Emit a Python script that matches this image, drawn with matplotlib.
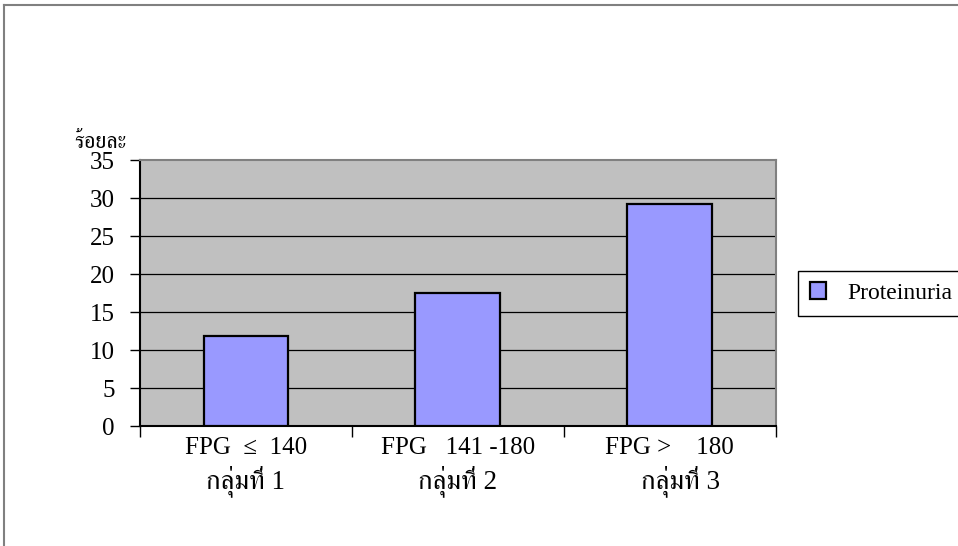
import matplotlib
matplotlib.use("Agg")
import matplotlib.pyplot as plt
from matplotlib import font_manager
from matplotlib.ft2font import FT2Font
from matplotlib.lines import Line2D
import numpy as np

# data
groups = ["FPG  \u2264  140", "FPG   141 -180", "FPG >    180"]
group_names = ["กลุ่มที่ 1", "กลุ่มที่ 2", "กลุ่มที่ 3"]
proteinuria = [11.9, 17.6, 29.2]
yticks = [0, 5, 10, 15, 20, 25, 30, 35]
series_name = "Proteinuria"
ylabel = "ร้อยละ"

# find a font with Thai glyphs
thai_fonts = []
for f in font_manager.fontManager.ttflist:
    try:
        if 0x0E01 in FT2Font(f.fname).get_charmap():
            thai_fonts.append(f.name)
    except Exception:
        pass
thai_fonts = sorted(set(thai_fonts), key=lambda n: ("Serif" not in n, n))
fams = ["Liberation Serif"] + thai_fonts[:1] + ["DejaVu Sans"]
plt.rcParams['font.family'] = fams
plt.rcParams['font.size'] = 18

fig = plt.figure(figsize=(9.58, 5.46), dpi=100)
ax = fig.add_axes([0.1461, 0.2189, 0.6636, 0.4875])
ax.set_facecolor("#C0C0C0")

x = np.arange(len(groups))
bars = ax.bar(x, proteinuria, width=0.4, color="#9999FF",
              edgecolor="black", linewidth=1.6, zorder=3, label=series_name)

ax.set_xlim(-0.5, len(groups) - 0.5)
ax.set_ylim(0, 35)
ax.set_yticks(yticks)
ax.set_yticklabels([str(v) for v in yticks])
for v in yticks[1:-1]:
    ax.axhline(v, color="black", linewidth=0.9, zorder=1)

ax.set_xticks(np.arange(-0.5, len(groups), 1.0))
ax.set_xticklabels([])
ax.tick_params(axis="x", direction="out", length=8, width=1, color="black")
ax.tick_params(axis="y", direction="out", length=7, width=1, color="black",
               pad=11, labelsize=18)

for s in ["top", "right"]:
    ax.spines[s].set_color("#808080")
    ax.spines[s].set_linewidth(1.5)
for s in ["left", "bottom"]:
    ax.spines[s].set_color("black")
    ax.spines[s].set_linewidth(1.5)

tr = ax.get_xaxis_transform()
for i in range(len(groups)):
    ax.text(i, -0.081, groups[i], transform=tr, ha="center", va="center",
            fontsize=18)
    ax.text(i + (0.05 if i == 2 else 0), -0.205, group_names[i], transform=tr,
            ha="center", va="center", fontsize=19.5)

ax.text(-0.063, 1.065, ylabel, transform=ax.transAxes, ha="center",
        va="center", fontsize=16)

leg = fig.legend(handles=[bars], labels=[series_name], loc="center left",
                 bbox_to_anchor=(0.833, 0.463), borderaxespad=0,
                 fancybox=False, frameon=True, fontsize=17,
                 edgecolor="black", framealpha=1, handlelength=0.7,
                 handleheight=0.7, handletextpad=0.9, borderpad=0.5)
leg.get_frame().set_linewidth(1)

# outer chart frame
fig.add_artist(Line2D([4 / 958, 1], [1 - 5 / 546, 1 - 5 / 546], color="#808080", linewidth=1.5))
fig.add_artist(Line2D([4 / 958, 4 / 958], [0, 1 - 5 / 546], color="#808080", linewidth=1.5))

fig.savefig("out.png", dpi=100)
